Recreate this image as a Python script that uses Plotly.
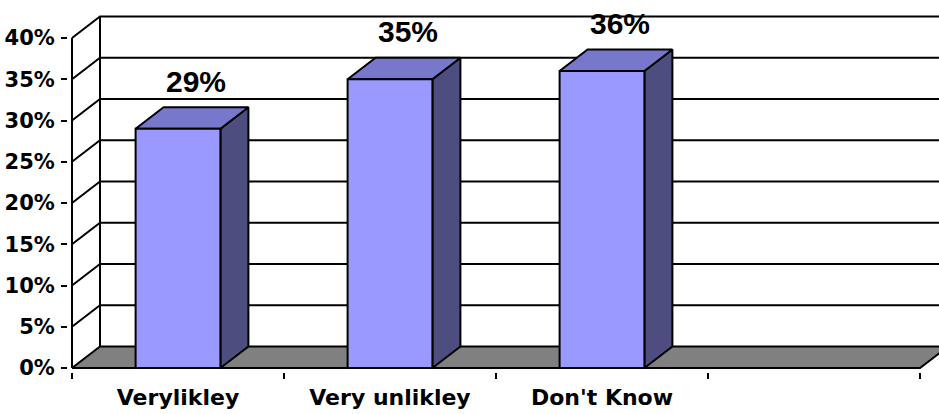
import plotly.graph_objects as go

# Survey answers and their shares (%)
categories = ["Verylikley", "Very unlikley", "Don't Know"]
shares = [29, 35, 36]
y_ticks = [0, 5, 10, 15, 20, 25, 30, 35, 40]
y_tick_labels = ["0%", "5%", "10%", "15%", "20%", "25%", "30%", "35%", "40%"]
n_slots = 4  # the category axis has one empty slot on the right

# pixel scale of the plotting area
PX_X = 212.0   # pixels per category slot
PX_Y = 8.25    # pixels per percent
W, H = 939, 414
L_PX, B_PX = 68, 42

x0 = -0.5 - 4 / PX_X
x1 = x0 + (W - L_PX) / PX_X
y0 = -4 / PX_Y
y1 = y0 + (H - B_PX) / PX_Y

# 3-D depth offset (same for walls and bars)
DX = 28 / PX_X
DY = 21.5 / PX_Y
BAR_W = 0.40

FRONT = "#9999FF"
TOP = "#7777CC"
SIDE = "#4D4D80"
FLOOR = "#808080"

fig = go.Figure()

xl = -0.5
xr = n_slots - 0.5

# back-wall gridlines with their diagonal returns to the front axis
gx, gy = [], []
for v in y_ticks[1:]:
    gx += [xl, xl + DX, x1 + 1, None]
    gy += [v, v + DY, v + DY, None]
# back wall left edge
gx += [xl + DX, xl + DX, None]
gy += [DY, y_ticks[-1] + DY, None]
fig.add_trace(go.Scatter(x=gx, y=gy, mode="lines",
                         line=dict(color="black", width=2),
                         hoverinfo="skip", showlegend=False))

# floor
fig.add_trace(go.Scatter(x=[xl, xr, xr + DX, x1 + 1, x1 + 1, xl + DX, xl],
                         y=[0, 0, DY, DY, DY, DY, 0],
                         mode="lines", fill="toself", fillcolor=FLOOR,
                         line=dict(color="black", width=2),
                         hoverinfo="skip", showlegend=False))

# front value axis line
fig.add_trace(go.Scatter(x=[xl, xl], y=[0, y_ticks[-1]], mode="lines",
                         line=dict(color="black", width=2),
                         hoverinfo="skip", showlegend=False))

# 3-D bars: side face, top face, front face
for i, v in enumerate(shares):
    a, b = i - BAR_W / 2, i + BAR_W / 2
    faces = [
        ([b, b + DX, b + DX, b, b], [0, DY, v + DY, v, 0], SIDE),
        ([a, b, b + DX, a + DX, a], [v, v, v + DY, v + DY, v], TOP),
        ([a, b, b, a, a], [0, 0, v, v, 0], FRONT),
    ]
    for fx, fy, col in faces:
        fig.add_trace(go.Scatter(x=fx, y=fy, mode="lines", fill="toself",
                                 fillcolor=col,
                                 line=dict(color="black", width=2),
                                 hoverinfo="skip", showlegend=False))

# value labels above each bar
for i, v in enumerate(shares):
    fig.add_annotation(x=i + DX / 2 + 0.02, y=v + DY, xref="x", yref="y",
                       text=f"{v}%", showarrow=False,
                       xanchor="center", yanchor="middle", yshift=26,
                       font=dict(family="Liberation Sans", size=30,
                                 color="black", weight="bold"))

fig.update_layout(
    width=W, height=H, autosize=False,
    margin=dict(l=L_PX, r=0, t=0, b=B_PX, pad=0),
    paper_bgcolor="white", plot_bgcolor="white",
    showlegend=False,
    xaxis=dict(range=[x0, x1], showgrid=False, zeroline=False, showline=False,
               tickvals=list(range(len(categories))), ticktext=categories,
               ticks="", ticklabelstandoff=10,
               tickfont=dict(family="DejaVu Sans", size=22, color="black", weight="bold"),
               minor=dict(tickvals=[k - 0.5 for k in range(n_slots + 1)],
                          ticks="outside", ticklen=6, tickwidth=2,
                          tickcolor="black", showgrid=False),
               fixedrange=True),
    yaxis=dict(range=[y0, y1], showgrid=False, zeroline=False, showline=False,
               tickvals=y_ticks, ticktext=y_tick_labels,
               ticks="outside", ticklen=6, tickwidth=2, tickcolor="black",
               ticklabelstandoff=2,
               tickfont=dict(family="DejaVu Sans", size=21, color="black", weight="bold"),
               fixedrange=True),
)

fig.write_html("out.html")
